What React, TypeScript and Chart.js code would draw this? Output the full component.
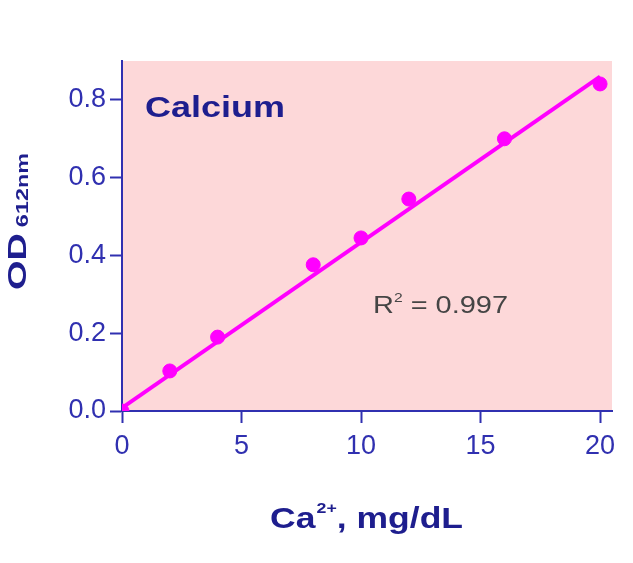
import React, { useEffect, useRef } from 'react';
import Chart from 'chart.js/auto';

// calibration points
const calciumMgDl = [0, 2, 4, 8, 10, 12, 16, 20];
const odValues = [0.0, 0.103, 0.19, 0.376, 0.445, 0.545, 0.7, 0.841];

// fitted line end points
const fitX = [0, 20];
const fitY = [0.008, 0.86];

const xTicks = [0, 5, 10, 15, 20];
const yTicks = [0, 0.2, 0.4, 0.6, 0.8];

const FONT = '"Liberation Sans", Arial, Helvetica, sans-serif';
const AXIS_BLUE = '#3030b0';
const TEXT_NAVY = '#1e1e8e';
const MAGENTA = '#ff00ff';

type Part = { text: string; font: string; dy: number; gap?: number };

// draws a run of text pieces, stretched sideways to a given width
function drawRun(ctx: CanvasRenderingContext2D, parts: Part[], x: number, y: number, width: number) {
  let total = 0;
  for (const p of parts) {
    ctx.font = p.font;
    total += ctx.measureText(p.text).width + (p.gap || 0);
  }
  ctx.save();
  ctx.translate(x, y);
  ctx.scale(width / total, 1);
  let cx = 0;
  for (const p of parts) {
    ctx.font = p.font;
    cx += p.gap || 0;
    ctx.fillText(p.text, cx, p.dy);
    cx += ctx.measureText(p.text).width;
  }
  ctx.restore();
}

const decorPlugin = {
  id: 'decor',
  beforeDraw(chart: any) {
    const { ctx, chartArea } = chart;
    ctx.save();
    ctx.fillStyle = '#fdd8d9';
    ctx.fillRect(chartArea.left, chartArea.top, chartArea.right - chartArea.left, chartArea.bottom - chartArea.top);
    ctx.restore();
  },
  afterDraw(chart: any) {
    const { ctx, chartArea } = chart;
    ctx.save();
    ctx.textBaseline = 'alphabetic';
    ctx.textAlign = 'left';

    // panel title
    ctx.fillStyle = TEXT_NAVY;
    drawRun(ctx, [{ text: 'Calcium', font: `bold 29px ${FONT}`, dy: 0 }], chartArea.left + 23, 117, 140);

    // R squared
    ctx.fillStyle = '#454545';
    drawRun(ctx, [
      { text: 'R', font: `24px ${FONT}`, dy: 0 },
      { text: '2', font: `13px ${FONT}`, dy: -11 },
      { text: ' = 0.997', font: `24px ${FONT}`, dy: 0 }
    ], 373, 313, 135);

    // x axis title
    ctx.fillStyle = TEXT_NAVY;
    drawRun(ctx, [
      { text: 'Ca', font: `bold 30px ${FONT}`, dy: 0 },
      { text: '2+', font: `bold 15px ${FONT}`, dy: -15, gap: 1 },
      { text: ', mg/dL', font: `bold 30px ${FONT}`, dy: 0 }
    ], 270, 528, 193);

    // y axis title, rotated
    ctx.translate(26, 290);
    ctx.rotate(-Math.PI / 2);
    drawRun(ctx, [
      { text: 'OD', font: `bold 26px ${FONT}`, dy: 0 },
      { text: '612nm', font: `bold 16px ${FONT}`, dy: 2, gap: 4 }
    ], 0, 0, 137);
    ctx.restore();
  }
};

export default function App() {
  const canvasRef = useRef<HTMLCanvasElement>(null);

  useEffect(() => {
    document.body.style.margin = '0';
    if (!canvasRef.current) return;
    const chart = new Chart(canvasRef.current, {
      type: 'scatter',
      data: {
        datasets: [
          {
            label: 'fit',
            data: fitX.map((x, i) => ({ x, y: fitY[i] })),
            showLine: true,
            borderColor: MAGENTA,
            borderWidth: 4,
            pointRadius: 0
          },
          {
            label: 'Calcium',
            data: calciumMgDl.map((x, i) => ({ x, y: odValues[i] })),
            backgroundColor: MAGENTA,
            borderColor: MAGENTA,
            pointRadius: 7,
            pointHoverRadius: 7
          }
        ]
      },
      options: {
        responsive: false,
        animation: false,
        layout: { padding: { left: 0, top: 61, right: 21, bottom: 0 } },
        plugins: { legend: { display: false }, tooltip: { enabled: false } },
        scales: {
          x: {
            type: 'linear',
            min: 0,
            max: 20.5,
            afterBuildTicks: (s: any) => { s.ticks = xTicks.map(v => ({ value: v })); },
            afterFit: (s: any) => { s.height = 152; },
            border: { color: AXIS_BLUE, width: 2 },
            grid: { drawOnChartArea: false, color: AXIS_BLUE, tickLength: 12, tickWidth: 2 },
            ticks: {
              color: AXIS_BLUE,
              font: { family: FONT, size: 27 },
              padding: 7,
              maxRotation: 0
            }
          },
          y: {
            type: 'linear',
            min: 0,
            max: 0.9,
            afterBuildTicks: (s: any) => { s.ticks = yTicks.map(v => ({ value: v })); },
            afterFit: (s: any) => { s.width = 122; },
            border: { color: AXIS_BLUE, width: 2 },
            grid: { drawOnChartArea: false, color: AXIS_BLUE, tickLength: 12, tickWidth: 2 },
            ticks: {
              color: AXIS_BLUE,
              font: { family: FONT, size: 27 },
              padding: 4,
              callback: (v: any) => Number(v).toFixed(1)
            }
          }
        }
      },
      plugins: [decorPlugin]
    });
    return () => chart.destroy();
  }, []);

  return (
    <div style={{ width: 633, height: 563, background: '#fff' }}>
      <canvas ref={canvasRef} width={633} height={563} style={{ width: 633, height: 563 }} />
    </div>
  );
}
